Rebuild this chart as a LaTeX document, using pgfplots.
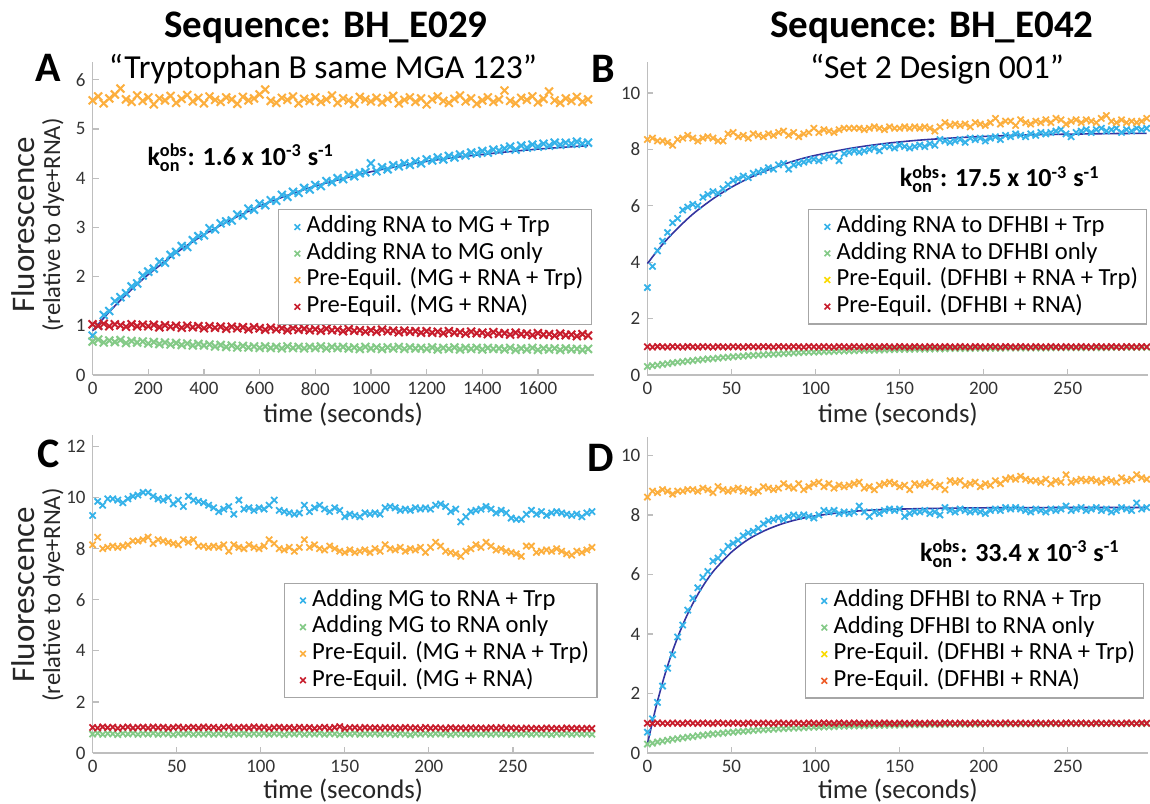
\documentclass[border=0pt]{standalone}
\usepackage{fontspec}
\setmainfont{Carlito}
\usepackage{amsmath}
\usepackage{pgfplots}
\usepackage{pgfplotstable}
\pgfplotsset{compat=1.18}

\definecolor{cyanM}{RGB}{53,178,233}
\definecolor{greenM}{RGB}{132,202,135}
\definecolor{orangeM}{RGB}{252,175,62}
\definecolor{redM}{RGB}{200,30,45}
\definecolor{yellowM}{RGB}{250,218,0}
\definecolor{vermM}{RGB}{238,92,40}
\definecolor{fitM}{RGB}{52,52,160}
\definecolor{axisM}{RGB}{190,190,190}

% panel A: t c g o r
\pgfplotstableread{
t c g o r
0 0.80 0.68 5.58 1.03
20 1.00 0.72 5.66 1.00
40 1.22 0.66 5.52 1.04
60 1.30 0.70 5.62 0.99
80 1.50 0.67 5.70 1.03
100 1.58 0.71 5.82 1.01
120 1.66 0.65 5.60 0.98
140 1.80 0.69 5.55 1.03
160 1.86 0.66 5.68 0.99
180 2.02 0.68 5.57 1.02
200 2.10 0.64 5.64 0.99
220 2.16 0.67 5.50 1.02
240 2.30 0.63 5.62 0.97
260 2.28 0.66 5.58 1.01
280 2.44 0.62 5.67 0.98
300 2.50 0.65 5.53 1.00
320 2.62 0.61 5.61 0.96
340 2.60 0.64 5.69 1.00
360 2.74 0.60 5.56 0.97
380 2.82 0.63 5.63 0.99
400 2.84 0.60 5.52 0.95
420 2.98 0.62 5.66 0.99
440 2.96 0.58 5.59 0.96
460 3.08 0.61 5.55 0.98
480 3.12 0.57 5.64 0.94
500 3.14 0.60 5.60 0.98
520 3.26 0.56 5.51 0.95
540 3.24 0.59 5.65 0.97
560 3.38 0.56 5.58 0.93
580 3.36 0.58 5.62 0.97
600 3.48 0.55 5.70 0.95
620 3.45 0.58 5.80 0.92
640 3.55 0.55 5.57 0.96
660 3.54 0.57 5.53 0.93
680 3.66 0.54 5.63 0.95
700 3.62 0.58 5.59 0.91
720 3.72 0.55 5.66 0.95
740 3.70 0.57 5.52 0.92
760 3.80 0.54 5.61 0.94
780 3.77 0.57 5.57 0.91
800 3.86 0.55 5.64 0.93
820 3.84 0.58 5.55 0.90
840 3.94 0.54 5.60 0.94
860 3.92 0.57 5.68 0.91
880 4.00 0.55 5.53 0.92
900 3.98 0.57 5.62 0.89
920 4.06 0.54 5.58 0.93
940 4.04 0.56 5.51 0.90
960 4.10 0.53 5.65 0.91
980 4.12 0.57 5.60 0.88
1000 4.30 0.54 5.56 0.91
1020 4.14 0.56 5.63 0.88
1040 4.22 0.53 5.54 0.92
1060 4.18 0.56 5.61 0.89
1080 4.26 0.54 5.67 0.90
1100 4.24 0.57 5.52 0.87
1120 4.30 0.53 5.59 0.90
1140 4.27 0.56 5.64 0.88
1160 4.34 0.54 5.55 0.89
1180 4.30 0.55 5.62 0.86
1200 4.38 0.53 5.50 0.89
1220 4.36 0.56 5.60 0.86
1240 4.42 0.52 5.66 0.88
1260 4.38 0.55 5.57 0.85
1280 4.45 0.53 5.53 0.89
1300 4.42 0.56 5.61 0.86
1320 4.48 0.52 5.68 0.87
1340 4.46 0.55 5.56 0.84
1360 4.52 0.53 5.62 0.88
1380 4.50 0.55 5.51 0.85
1400 4.55 0.52 5.58 0.86
1420 4.52 0.55 5.64 0.83
1440 4.58 0.53 5.55 0.87
1460 4.56 0.54 5.60 0.84
1480 4.60 0.52 5.78 0.85
1500 4.64 0.55 5.57 0.82
1520 4.58 0.51 5.52 0.86
1540 4.66 0.54 5.63 0.83
1560 4.62 0.52 5.59 0.84
1580 4.68 0.55 5.66 0.81
1600 4.64 0.51 5.54 0.85
1620 4.70 0.54 5.61 0.82
1640 4.66 0.52 5.76 0.83
1660 4.72 0.54 5.58 0.80
1680 4.68 0.51 5.53 0.84
1700 4.72 0.54 5.62 0.81
1720 4.70 0.52 5.57 0.82
1740 4.74 0.53 5.65 0.79
1760 4.70 0.51 5.55 0.83
1780 4.72 0.53 5.60 0.80
}\dataA

% panel B
\pgfplotstableread{
t c g o r
0 3.10 0.30 8.35 1.00
3 3.85 0.33 8.40 0.99
6 4.40 0.35 8.30 1.01
9 4.75 0.38 8.30 1.00
12 5.05 0.40 8.25 0.99
15 5.40 0.43 8.15 1.01
18 5.55 0.45 8.35 1.00
21 5.85 0.47 8.40 0.99
24 5.95 0.49 8.50 1.01
27 6.05 0.51 8.40 1.00
30 6.00 0.53 8.30 0.99
33 6.30 0.55 8.40 1.01
36 6.40 0.57 8.45 1.00
39 6.50 0.58 8.40 0.99
42 6.45 0.60 8.30 1.01
45 6.60 0.62 8.30 1.00
48 6.75 0.63 8.55 0.99
51 6.90 0.65 8.60 1.01
54 6.95 0.66 8.45 1.00
57 7.05 0.67 8.50 0.99
60 7.00 0.69 8.40 1.01
63 7.15 0.70 8.55 1.00
66 7.20 0.71 8.50 0.99
69 7.25 0.72 8.45 1.01
72 7.35 0.73 8.55 1.00
75 7.30 0.74 8.50 0.99
78 7.45 0.75 8.60 1.01
81 7.50 0.76 8.65 1.00
84 7.30 0.77 8.50 0.99
87 7.45 0.78 8.60 1.01
90 7.50 0.79 8.45 1.00
93 7.55 0.80 8.55 0.99
96 7.60 0.81 8.60 1.01
99 7.65 0.81 8.75 1.00
102 7.60 0.82 8.60 0.99
105 7.70 0.83 8.70 1.01
108 7.75 0.83 8.65 1.00
111 7.75 0.84 8.60 0.99
114 7.60 0.85 8.70 1.01
117 7.85 0.85 8.75 1.00
120 7.90 0.86 8.75 0.99
123 7.95 0.86 8.75 1.01
126 7.90 0.87 8.75 1.00
129 7.95 0.88 8.70 0.99
132 8.00 0.88 8.75 1.01
135 8.05 0.88 8.80 1.00
138 7.95 0.89 8.75 0.99
141 8.10 0.89 8.70 1.01
144 8.10 0.90 8.80 1.00
147 8.05 0.90 8.75 0.99
150 8.15 0.91 8.75 1.01
153 8.10 0.91 8.80 1.00
156 8.05 0.91 8.75 0.99
159 8.10 0.92 8.80 1.01
162 8.15 0.92 8.75 1.00
165 8.10 0.92 8.80 0.99
168 8.20 0.92 8.75 1.01
171 8.15 0.93 8.65 1.00
174 8.35 0.93 8.80 0.99
177 8.30 0.93 8.95 1.01
180 8.25 0.94 8.85 1.00
183 8.30 0.94 8.90 0.99
186 8.35 0.94 8.85 1.01
189 8.25 0.94 8.90 1.00
192 8.40 0.94 8.80 0.99
195 8.35 0.95 8.95 1.01
198 8.40 0.95 8.90 1.00
201 8.30 0.95 8.85 0.99
204 8.40 0.95 8.95 1.01
207 8.45 0.95 9.10 1.00
210 8.35 0.95 8.90 0.99
213 8.50 0.96 9.00 1.01
216 8.45 0.96 9.00 1.00
219 8.55 0.96 8.85 0.99
222 8.50 0.96 9.05 1.01
225 8.45 0.96 8.95 1.00
228 8.55 0.96 8.90 0.99
231 8.50 0.96 9.00 1.01
234 8.60 0.96 8.95 1.00
237 8.55 0.96 9.05 0.99
240 8.60 0.97 8.95 1.01
243 8.65 0.97 9.10 1.00
246 8.70 0.97 9.05 0.99
249 8.55 0.97 8.90 1.01
252 8.45 0.97 9.00 1.00
255 8.60 0.97 9.05 0.99
258 8.65 0.97 8.95 1.01
261 8.70 0.97 9.05 1.00
264 8.60 0.97 9.00 0.99
267 8.70 0.97 8.95 1.01
270 8.75 0.97 9.10 1.00
273 8.65 0.97 9.20 0.99
276 8.70 0.98 9.00 1.01
279 8.75 0.98 8.95 1.00
282 8.60 0.98 9.05 0.99
285 8.70 0.98 8.95 1.01
288 8.65 0.98 9.00 1.00
291 8.75 0.98 8.95 0.99
294 8.70 0.98 9.00 1.01
297 8.75 0.98 9.10 1.00
}\dataB

% panel C
\pgfplotstableread{
t c g o r
0 9.30 0.74 8.15 1.00
3 9.85 0.77 8.45 0.98
6 9.70 0.73 8.00 1.02
9 9.95 0.76 8.05 0.99
12 9.95 0.75 8.10 1.01
15 9.90 0.72 8.05 0.97
18 9.80 0.76 8.10 1.00
21 9.95 0.74 8.15 1.02
24 10.05 0.77 8.30 0.98
27 10.10 0.73 8.30 1.00
30 10.20 0.76 8.35 1.01
33 10.20 0.74 8.45 0.98
36 10.05 0.77 8.20 1.02
39 9.95 0.73 8.35 0.99
42 9.90 0.76 8.30 1.01
45 10.00 0.75 8.25 0.97
48 9.75 0.72 8.20 1.00
51 9.90 0.76 8.15 1.02
54 9.65 0.74 8.35 0.98
57 10.05 0.77 8.25 1.00
60 9.90 0.73 8.35 1.01
63 9.85 0.76 8.10 0.98
66 9.80 0.74 8.10 1.02
69 9.70 0.77 8.05 0.99
72 9.60 0.73 8.10 1.01
75 9.45 0.76 8.05 0.97
78 9.55 0.75 8.15 1.00
81 9.65 0.72 7.90 1.02
84 9.35 0.76 8.15 0.98
87 9.90 0.74 8.05 1.00
90 9.55 0.77 8.00 1.01
93 9.60 0.73 8.15 0.98
96 9.50 0.76 8.05 1.02
99 9.60 0.74 8.00 0.99
102 9.55 0.77 8.10 1.01
105 9.70 0.73 8.35 0.97
108 9.90 0.76 8.20 1.00
111 9.50 0.75 8.00 1.01
114 9.45 0.72 7.95 0.98
117 9.40 0.76 8.05 1.00
120 9.35 0.74 7.90 0.97
123 9.40 0.77 8.05 1.01
126 9.70 0.73 8.35 0.98
129 9.45 0.76 8.05 1.00
132 9.60 0.74 8.15 0.96
135 9.70 0.77 8.00 0.99
138 9.55 0.73 7.95 1.01
141 9.45 0.76 8.10 0.97
144 9.60 0.75 8.00 1.00
147 9.50 0.72 7.90 1.03
150 9.25 0.76 7.85 0.96
153 9.35 0.74 7.95 0.99
156 9.30 0.77 7.85 1.00
159 9.25 0.73 7.90 0.97
162 9.40 0.76 7.95 1.00
165 9.35 0.74 7.85 0.98
168 9.40 0.77 8.00 0.99
171 9.35 0.73 7.90 0.97
174 9.60 0.76 8.15 1.00
177 9.65 0.75 8.00 0.98
180 9.60 0.72 7.95 0.99
183 9.50 0.76 8.05 0.97
186 9.55 0.74 7.90 1.00
189 9.50 0.71 8.00 0.98
192 9.60 0.76 7.95 0.99
195 9.55 0.74 8.05 0.96
198 9.60 0.77 7.85 1.00
201 9.55 0.73 8.05 0.97
204 9.70 0.76 8.25 0.99
207 9.75 0.74 8.10 0.98
210 9.65 0.77 7.90 0.96
213 9.45 0.72 7.85 0.99
216 9.55 0.76 7.80 0.97
219 9.05 0.74 7.70 0.98
222 9.25 0.75 7.90 0.96
225 9.45 0.73 8.00 0.99
228 9.50 0.76 8.15 0.97
231 9.55 0.74 8.05 0.98
234 9.65 0.77 8.25 0.96
237 9.55 0.73 8.10 0.99
240 9.40 0.76 7.95 0.97
243 9.50 0.74 8.00 1.00
246 9.40 0.75 7.90 0.96
249 9.20 0.72 7.85 0.98
252 9.15 0.76 7.80 0.97
255 9.15 0.74 7.70 0.95
258 9.35 0.77 8.10 0.98
261 9.50 0.73 8.10 0.96
264 9.35 0.76 7.85 0.97
267 9.45 0.74 7.90 0.95
270 9.30 0.75 7.95 0.98
273 9.40 0.72 7.90 0.96
276 9.45 0.76 8.00 0.97
279 9.40 0.74 7.90 0.95
282 9.35 0.77 7.80 0.98
285 9.30 0.73 7.75 0.96
288 9.35 0.76 7.90 0.97
291 9.25 0.74 7.85 0.95
294 9.40 0.75 7.95 0.97
297 9.45 0.73 8.05 0.96
}\dataC

% panel D
\pgfplotstableread{
t c g o r
0 0.70 0.30 8.60 1.00
3 1.15 0.33 8.80 0.99
6 1.70 0.37 8.75 1.01
9 2.25 0.40 8.85 1.00
12 2.85 0.43 8.80 0.99
15 3.30 0.46 8.70 1.01
18 3.90 0.48 8.80 1.00
21 4.30 0.51 8.80 0.99
24 4.80 0.53 8.85 1.01
27 5.20 0.55 8.85 1.00
30 5.55 0.58 8.80 0.99
33 5.90 0.60 8.90 1.01
36 6.10 0.62 8.85 1.00
39 6.45 0.64 8.75 0.99
42 6.55 0.65 8.95 1.01
45 6.75 0.67 8.85 1.00
48 6.95 0.69 8.80 0.99
51 7.05 0.70 8.85 1.01
54 7.15 0.72 8.90 1.00
57 7.30 0.73 8.80 0.99
60 7.40 0.74 8.85 1.01
63 7.45 0.76 8.75 1.00
66 7.55 0.77 8.80 0.99
69 7.70 0.78 8.95 1.01
72 7.80 0.79 8.90 1.00
75 7.85 0.80 8.85 0.99
78 7.90 0.81 8.90 1.01
81 7.85 0.82 9.05 1.00
84 7.95 0.83 8.95 0.99
87 8.00 0.84 8.90 1.01
90 7.95 0.84 9.05 1.00
93 8.00 0.85 8.85 0.99
96 7.95 0.86 8.95 1.01
99 7.90 0.87 9.05 1.00
102 8.00 0.87 9.10 0.99
105 8.15 0.88 8.95 1.01
108 8.10 0.88 9.05 1.00
111 8.15 0.89 8.90 0.99
114 8.05 0.90 9.00 1.01
117 8.10 0.90 8.95 1.00
120 8.05 0.91 9.00 0.99
123 8.10 0.91 9.05 1.01
126 8.30 0.91 9.10 1.00
129 8.10 0.92 8.90 0.99
132 7.95 0.92 8.95 1.01
135 8.10 0.93 8.85 1.00
138 8.05 0.93 9.00 0.99
141 8.15 0.93 9.05 1.01
144 8.20 0.94 9.10 1.00
147 8.15 0.94 9.05 0.99
150 8.20 0.94 8.95 1.01
153 7.95 0.95 9.00 1.00
156 8.05 0.95 8.85 0.99
159 8.10 0.95 9.05 1.01
162 8.10 0.95 9.00 1.00
165 8.15 0.96 9.05 0.99
168 8.05 0.96 9.10 1.01
171 8.10 0.96 8.95 1.00
174 8.00 0.96 9.00 0.99
177 8.25 0.96 8.85 1.01
180 8.15 0.97 9.15 1.00
183 8.10 0.97 9.10 0.99
186 8.20 0.97 9.15 1.01
189 8.15 0.97 9.00 1.00
192 8.10 0.97 9.05 0.99
195 8.15 0.97 9.10 1.01
198 8.10 0.97 8.95 1.00
201 8.05 0.98 9.05 0.99
204 8.15 0.98 9.00 1.01
207 8.20 0.98 9.15 1.00
210 8.15 0.98 9.05 0.99
213 8.25 0.98 9.20 1.01
216 8.20 0.98 9.25 1.00
219 8.25 0.98 9.20 0.99
222 8.20 0.98 9.30 1.01
225 8.15 0.98 9.20 1.00
228 8.10 0.98 9.15 0.99
231 8.20 0.98 9.15 1.01
234 8.15 0.98 9.10 1.00
237 8.10 0.98 9.20 0.99
240 8.20 0.99 9.05 1.01
243 8.15 0.99 9.15 1.00
246 8.20 0.99 9.10 0.99
249 8.30 0.99 9.35 1.01
252 8.15 0.99 9.10 1.00
255 8.20 0.99 9.15 0.99
258 8.25 0.99 9.20 1.01
261 8.15 0.99 9.15 1.00
264 8.20 0.99 9.20 0.99
267 8.25 0.99 9.15 1.01
270 8.15 0.99 9.10 1.00
273 8.20 0.99 9.20 0.99
276 8.10 0.99 9.15 1.01
279 8.15 0.99 9.10 1.00
282 8.25 0.99 9.25 0.99
285 8.20 0.99 9.15 1.01
288 8.15 0.99 9.20 1.00
291 8.40 0.99 9.35 0.99
294 8.20 0.99 9.25 1.01
297 8.25 0.99 9.20 1.00
}\dataD

\pgfplotsset{
  panel/.style={
    scale only axis, width=250.5bp,
    axis x line*=bottom, axis y line*=left,
    axis line style={draw=axisM, line width=0.6bp},
    every tick/.style={draw=axisM, line width=0.6bp},
    major tick length=3bp, tick align=inside,
    tick label style={font=\fontsize{9.5bp}{11bp}\selectfont, text=black!80},
    /pgf/number format/assume math mode=true,
    /pgf/number format/1000 sep={},
    xlabel={time (seconds)},
    xlabel style={font=\fontsize{13.4bp}{15bp}\selectfont, text=black!85,
      at={(axis description cs:0.5,0)}, anchor=base, yshift=-24bp},
    xmin=0, ymin=0, clip=false,
    legend cell align=left,
    legend style={font=\fontsize{12.3bp}{13.3bp}\selectfont, draw=gray!70,
      line width=0.6bp, fill=white, inner xsep=3bp, inner ysep=2bp,
      anchor=north west, row sep=0pt,
      nodes={inner xsep=1bp, inner ysep=0.5bp, text height=9bp, text depth=3.3bp}},
    legend image code/.code={
      \path[draw=none, fill=none] (0bp,0bp) rectangle (10bp,0.1bp);
      \draw[##1, mark size=2bp, mark options={line width=0.8bp}] plot coordinates {(6.4bp,0bp)};},
  },
  pts/.style={only marks, mark=x, mark size=2.2bp, mark options={line width=0.9bp}, forget plot},
  ptsA/.style={only marks, mark=x, mark size=2.8bp, mark options={line width=1bp}, forget plot},
  fit/.style={fitM, line width=0.8bp, smooth, forget plot},
}

\newcommand{\kfont}{\fontsize{13bp}{15bp}\selectfont\bfseries}

\begin{document}
\begin{tikzpicture}
\useasboundingbox (0,0) rectangle (575bp,402bp);

% ---------- A ----------
\begin{axis}[panel, at={(46.3bp,214.5bp)}, anchor=south west, height=156.5bp,
  xmax=1800, ymax=6.36, xtick={0,200,...,1600}, ytick={0,1,...,6},
  legend style={at={(axis cs:666,3.37)}}]
\addplot[ptsA, color=cyanM] table[x=t,y=c]{\dataA};
\addplot[ptsA, color=greenM] table[x=t,y=g]{\dataA};
\addplot[ptsA, color=orangeM] table[x=t,y=o]{\dataA};
\addplot[ptsA, color=redM] table[x=t,y=r]{\dataA};
\addplot[fit] coordinates {(0,0.90) (50,1.22) (100,1.52) (150,1.79) (200,2.04)
  (300,2.48) (400,2.85) (500,3.16) (600,3.43) (700,3.65) (800,3.84) (900,3.99)
  (1000,4.13) (1100,4.24) (1200,4.34) (1300,4.42) (1400,4.48) (1500,4.54)
  (1600,4.59) (1700,4.63) (1780,4.66)};
\addlegendimage{only marks, mark=x, draw=cyanM}
\addlegendentry{Adding RNA to MG + Trp}
\addlegendimage{only marks, mark=x, draw=greenM}
\addlegendentry{Adding RNA to MG only}
\addlegendimage{only marks, mark=x, draw=orangeM}
\addlegendentry{Pre-Equil. (MG + RNA + Trp)}
\addlegendimage{only marks, mark=x, draw=redM}
\addlegendentry{Pre-Equil. (MG + RNA)}
\node[anchor=base west, font=\kfont] at (axis cs:172,4.26)
  {k$^{\text{obs}}_{\text{on}}$: 1.6 x 10\textsuperscript{-3} s\textsuperscript{-1}};
\end{axis}

% ---------- B ----------
\begin{axis}[panel, at={(323.7bp,214.5bp)}, anchor=south west, height=156.5bp,
  xmax=298, ymax=11.1, xtick={0,50,...,250}, ytick={0,2,...,10},
  legend style={at={(axis cs:95.5,5.89)}}]
\addplot[pts, color=cyanM] table[x=t,y=c]{\dataB};
\addplot[pts, color=greenM] table[x=t,y=g]{\dataB};
\addplot[pts, color=orangeM] table[x=t,y=o]{\dataB};
\addplot[pts, color=redM] table[x=t,y=r]{\dataB};
\addplot[fit] coordinates {(0,3.95) (5,4.34) (10,4.70) (15,5.02) (20,5.32)
  (25,5.60) (30,5.85) (40,6.29) (50,6.66) (60,6.97) (70,7.23) (80,7.45)
  (90,7.64) (100,7.79) (120,8.03) (140,8.20) (160,8.32) (180,8.40) (200,8.46)
  (225,8.51) (250,8.54) (275,8.56) (297,8.57)};
\addlegendimage{only marks, mark=x, draw=cyanM}
\addlegendentry{Adding RNA to DFHBI + Trp}
\addlegendimage{only marks, mark=x, draw=greenM}
\addlegendentry{Adding RNA to DFHBI only}
\addlegendimage{only marks, mark=x, draw=yellowM}
\addlegendentry{Pre-Equil. (DFHBI + RNA + Trp)}
\addlegendimage{only marks, mark=x, draw=redM}
\addlegendentry{Pre-Equil. (DFHBI + RNA)}
\node[anchor=base west, font=\kfont] at (axis cs:146,6.67)
  {k$^{\text{obs}}_{\text{on}}$: 17.5 x 10\textsuperscript{-3} s\textsuperscript{-1}};
\end{axis}

% ---------- C ----------
\begin{axis}[panel, at={(46.3bp,25.5bp)}, anchor=south west, height=159bp,
  xmax=298, ymax=12.45, xtick={0,50,...,250}, ytick={0,2,...,12},
  xlabel style={yshift=1.5bp},
  legend style={at={(axis cs:113.6,6.67)}}]
\addplot[pts, color=cyanM] table[x=t,y=c]{\dataC};
\addplot[pts, color=greenM] table[x=t,y=g]{\dataC};
\addplot[pts, color=orangeM] table[x=t,y=o]{\dataC};
\addplot[pts, color=redM] table[x=t,y=r]{\dataC};
\addlegendimage{only marks, mark=x, draw=cyanM}
\addlegendentry{Adding MG to RNA + Trp}
\addlegendimage{only marks, mark=x, draw=greenM}
\addlegendentry{Adding MG to RNA only}
\addlegendimage{only marks, mark=x, draw=orangeM}
\addlegendentry{Pre-Equil. (MG + RNA + Trp)}
\addlegendimage{only marks, mark=x, draw=redM}
\addlegendentry{Pre-Equil. (MG + RNA)}
\end{axis}

% ---------- D ----------
\begin{axis}[panel, at={(323.7bp,25.5bp)}, anchor=south west, height=158bp,
  xmax=298, ymax=10.62, xtick={0,50,...,250}, ytick={0,2,...,10},
  xlabel style={yshift=1.5bp},
  legend style={at={(axis cs:93.7,5.71)}}]
\addplot[pts, color=cyanM] table[x=t,y=c]{\dataD};
\addplot[pts, color=greenM] table[x=t,y=g]{\dataD};
\addplot[pts, color=orangeM] table[x=t,y=o]{\dataD};
\addplot[pts, color=redM] table[x=t,y=r]{\dataD};
\addplot[fit] coordinates {(0,0.30) (5,1.52) (10,2.56) (15,3.43) (20,4.17)
  (25,4.80) (30,5.33) (35,5.78) (40,6.16) (50,6.75) (60,7.18) (70,7.48)
  (80,7.70) (90,7.86) (100,7.97) (120,8.11) (140,8.18) (170,8.22) (200,8.24)
  (250,8.25) (297,8.25)};
\addlegendimage{only marks, mark=x, draw=cyanM}
\addlegendentry{Adding DFHBI to RNA + Trp}
\addlegendimage{only marks, mark=x, draw=greenM}
\addlegendentry{Adding DFHBI to RNA only}
\addlegendimage{only marks, mark=x, draw=yellowM}
\addlegendentry{Pre-Equil. (DFHBI + RNA + Trp)}
\addlegendimage{only marks, mark=x, draw=vermM}
\addlegendentry{Pre-Equil. (DFHBI + RNA)}
\node[anchor=base west, font=\kfont] at (axis cs:158,6.44)
  {k$^{\text{obs}}_{\text{on}}$: 33.4 x 10\textsuperscript{-3} s\textsuperscript{-1}};
\end{axis}

% titles, panel letters and y labels
\node[anchor=base, font=\fontsize{19.5bp}{22bp}\selectfont\bfseries] at (163bp,383.3bp) {Sequence: BH\_E029};
\node[anchor=base, font=\fontsize{19.5bp}{22bp}\selectfont\bfseries] at (466bp,383.3bp) {Sequence: BH\_E042};
\node[anchor=base, font=\fontsize{16.8bp}{19bp}\selectfont] at (161.5bp,362.8bp) {“Tryptophan B same MGA 123”};
\node[anchor=base, font=\fontsize{16.8bp}{19bp}\selectfont] at (468.5bp,362.8bp) {“Set 2 Design 001”};
\node[anchor=base west, inner sep=0pt, font=\fontsize{21bp}{24bp}\selectfont\bfseries] at (17.5bp,361bp) {A};
\node[anchor=base west, inner sep=0pt, font=\fontsize{21bp}{24bp}\selectfont\bfseries] at (295.5bp,360.5bp) {B};
\node[anchor=base west, inner sep=0pt, font=\fontsize{21bp}{24bp}\selectfont\bfseries] at (18.5bp,168bp) {C};
\node[anchor=base west, inner sep=0pt, font=\fontsize{21bp}{24bp}\selectfont\bfseries] at (293.5bp,166bp) {D};
\foreach \yc in {289.5bp,104.5bp}{
  \node[rotate=90, anchor=base, inner sep=0pt, text=black!85, font=\fontsize{16.5bp}{18bp}\selectfont] at (17bp,\yc) {Fluorescence};
  \node[rotate=90, anchor=base, inner sep=0pt, text=black!85, font=\fontsize{12.3bp}{14bp}\selectfont] at (30bp,\yc) {(relative to dye+RNA)};
}
\end{tikzpicture}
\end{document}
